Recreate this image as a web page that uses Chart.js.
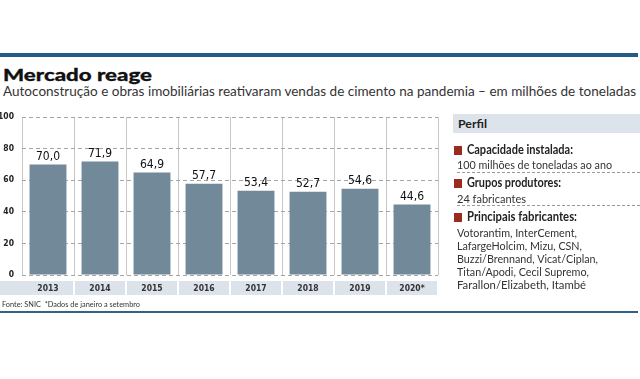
<!DOCTYPE html>
<html><head><meta charset="utf-8">
<script src="https://cdn.jsdelivr.net/npm/chart.js@4"></script>
<style>
html,body{margin:0;padding:0;background:#fff;}
body{width:640px;height:379px;position:relative;overflow:hidden;font-family:Lato,"DejaVu Sans Condensed","Liberation Sans",sans-serif;color:#222;}
.t{position:absolute;white-space:nowrap;line-height:1;transform-origin:0 50%;}
#topline{position:absolute;left:0;top:53px;width:638px;height:4px;background:#245b86;}
#footline{position:absolute;left:0;top:311px;width:638px;height:2px;background:#2f6388;}
#cv{position:absolute;left:0;top:0;}
#perfil{position:absolute;left:453px;top:114px;width:187px;height:19px;background:#dde3ea;}
.sq{position:absolute;width:8px;height:9px;background:#9b2c1d;left:454px;}
.dash{position:absolute;left:457px;width:183px;height:0;border-top:1px dashed #9a9a9a;}
.b{font-weight:bold;}
</style></head>
<body>
<div id="topline"></div>
<div class="t fit" data-w="149" style="left:3px;top:66px;font-family:Lato,'DejaVu Sans',sans-serif;font-weight:900;font-size:17.5px;color:#111;-webkit-text-stroke:0.3px #111;">Mercado reage</div>
<div class="t fit" data-w="633" style="left:3px;top:84px;font-size:14px;color:#333;">Autoconstrução e obras imobiliárias reativaram vendas de cimento na pandemia – em milhões de toneladas</div>

<canvas id="cv" width="640" height="379"></canvas>

<div id="perfil"></div>
<div class="t fit b" data-w="29" style="left:458px;top:117.5px;font-size:12px;color:#222;">Perfil</div>

<div class="sq" style="top:146px;"></div>
<div class="t fit b" data-w="106" style="left:467px;top:144px;font-size:12.5px;">Capacidade instalada:</div>
<div class="t fit" data-w="155" style="left:457px;top:158.5px;font-size:12px;color:#333;">100 milhões de toneladas ao ano</div>
<div class="dash" style="top:172px;"></div>

<div class="sq" style="top:179px;"></div>
<div class="t fit b" data-w="94" style="left:467px;top:176.5px;font-size:12.5px;">Grupos produtores:</div>
<div class="t fit" data-w="69" style="left:457px;top:192.5px;font-size:12px;color:#333;">24 fabricantes</div>
<div class="dash" style="top:205px;"></div>

<div class="sq" style="top:213px;"></div>
<div class="t fit b" data-w="110" style="left:467px;top:210.5px;font-size:12.5px;">Principais fabricantes:</div>
<div class="t fit" data-w="120" style="left:457px;top:226.5px;font-size:12px;color:#333;">Votorantim, InterCement,</div>
<div class="t fit" data-w="125" style="left:457px;top:239.5px;font-size:12px;color:#333;">LafargeHolcim, Mizu, CSN,</div>
<div class="t fit" data-w="141" style="left:457px;top:252.5px;font-size:12px;color:#333;">Buzzi/Brennand, Vicat/Ciplan,</div>
<div class="t fit" data-w="132" style="left:457px;top:265.5px;font-size:12px;color:#333;">Titan/Apodi, Cecil Supremo,</div>
<div class="t fit" data-w="129" style="left:457px;top:278.5px;font-size:12px;color:#333;">Farallon/Elizabeth, Itambé</div>

<div class="t fit" data-w="138" style="left:2px;top:300px;font-size:8px;color:#333;">Fonte: SNIC&nbsp; *Dados de janeiro a setembro</div>
<div id="footline"></div>

<script>
const categories = ['2013','2014','2015','2016','2017','2018','2019','2020*'];
const values = [70.0, 71.9, 64.9, 57.7, 53.4, 52.7, 54.6, 44.6];
const yTicks = [0, 20, 40, 60, 80, 100];

document.querySelectorAll('.fit').forEach(el => {
  const w = el.getBoundingClientRect().width;
  const target = parseFloat(el.dataset.w);
  if (w > 0) el.style.transform = 'scaleX(' + (target / w) + ')';
});

const condensed = '"DejaVu Sans Condensed","Liberation Sans",sans-serif';

const bandPlugin = {
  id: 'band',
  beforeDraw(chart) {
    const ctx = chart.ctx, x = chart.scales.x;
    const n = chart.data.labels.length;
    const w = (x.right - x.left) / n;
    ctx.save();
    ctx.fillStyle = '#dce3ea';
    for (let i = 0; i < n; i++) {
      const c = x.getPixelForValue(i);
      let l = c - w / 2 + 1, r = c + w / 2 - 1;
      if (i === 0) l = 0;
      ctx.fillRect(l, x.top + 6, r - l, x.bottom - x.top - 6);
    }
    ctx.restore();
  }
};

const valuePlugin = {
  id: 'values',
  afterDatasetsDraw(chart) {
    const ctx = chart.ctx;
    const meta = chart.getDatasetMeta(0);
    ctx.save();
    ctx.font = '12px ' + condensed;
    ctx.fillStyle = '#111';
    ctx.textAlign = 'center';
    ctx.textBaseline = 'middle';
    meta.data.forEach((el, i) => {
      ctx.fillText(values[i].toFixed(1).replace('.', ','), el.x, el.y - 7.5);
    });
    ctx.restore();
  }
};

new Chart(document.getElementById('cv'), {
  type: 'bar',
  data: {
    labels: categories,
    datasets: [{
      data: values,
      backgroundColor: '#72899a',
      borderWidth: 0,
      barPercentage: 0.71,
      categoryPercentage: 1
    }]
  },
  options: {
    responsive: false,
    animation: false,
    devicePixelRatio: 1,
    layout: { padding: { left: 0, right: 202, top: 117, bottom: 84 } },
    plugins: { legend: { display: false }, tooltip: { enabled: false } },
    scales: {
      x: {
        grid: { offset: true, color: '#c6c6c6', lineWidth: 1, drawTicks: false },
        border: { display: false },
        ticks: { font: { family: condensed, weight: 'bold', size: 8.5 }, color: '#333', padding: 9, maxRotation: 0, autoSkip: false },
        afterFit(s) { s.height = 20; }
      },
      y: {
        min: 0, max: 100,
        afterBuildTicks(s) { s.ticks = yTicks.map(v => ({ value: v })); },
        grid: { color: '#a5a5a5', lineWidth: 1, drawTicks: false },
        border: { display: false, dash: [4, 3] },
        ticks: { font: { family: condensed, weight: 'bold', size: 8.5 }, color: '#222', padding: 8 },
        afterFit(s) { s.width = 22; }
      }
    }
  },
  plugins: [bandPlugin, valuePlugin]
});
</script>
</body></html>
